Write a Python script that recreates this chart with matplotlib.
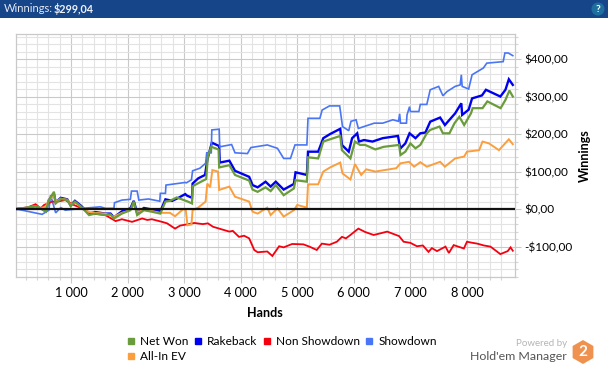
import matplotlib
matplotlib.use("Agg")
import matplotlib.pyplot as plt
from matplotlib.patches import RegularPolygon, Circle, Rectangle
from matplotlib.lines import Line2D

plt.rcParams['font.family'] = ['Lato', 'DejaVu Sans']

title_label = "Winnings:"
title_value = "$299,04"
x_label = "Hands"
y_label = "Winnings"
x_ticks = [1000, 2000, 3000, 4000, 5000, 6000, 7000, 8000]
x_tick_labels = ["1 000", "2 000", "3 000", "4 000", "5 000", "6 000", "7 000", "8 000"]
y_ticks = [-100, 0, 100, 200, 300, 400]
y_tick_labels = ["-$100,00", "$0,00", "$100,00", "$200,00", "$300,00", "$400,00"]

net_x = [20,195,375,465,555,610,700,730,820,935,995,1070,1170,1320,1430,1610,1700,1760,1900,2050,2110,2170,2290,2430,2580,2670,2750,2870,3050,3140,3150,3300,3390,3420,3480,3610,3620,3800,3900,4150,4210,4300,4440,4530,4620,4760,4940,4970,5170,5190,5370,5460,5580,5760,5790,5940,6020,6110,6200,6380,6530,6800,6825,6910,7000,7090,7175,7290,7350,7515,7575,7690,7780,7865,7950,8070,8100,8275,8360,8595,8680,8750,8810]
net_y = [0,3,8,2,-7,24,46,15,27,24,8,20,8,-16,-12,-16,-14,-25,-12,-3,20,-16,-3,-7,-12,20,22,31,21,15,61,73,80,140,166,159,111,117,91,76,52,46,58,48,64,37,55,77,73,138,135,180,186,195,157,135,180,171,171,159,166,171,144,153,175,162,171,202,211,220,202,202,229,246,224,255,269,269,287,269,291,316,300]

rake_x = [20,195,375,465,555,610,700,730,820,935,995,1070,1170,1320,1430,1610,1700,1760,1900,2050,2110,2170,2290,2430,2580,2670,2790,2900,3020,3050,3140,3150,3250,3370,3410,3490,3620,3630,3800,3900,4150,4210,4300,4440,4530,4620,4760,4940,4970,5170,5190,5370,5460,5580,5760,5790,5910,5970,6060,6090,6180,6330,6510,6780,6810,6825,6910,6985,7090,7175,7265,7350,7525,7610,7790,7900,7915,8030,8090,8265,8335,8590,8680,8740,8810]
rake_y = [0,3,8,2,-5,24,40,18,30,26,10,22,10,-12,-8,-12,-12,-22,-6,2,22,-10,3,-1,-6,26,22,30,40,36,30,68,82,91,131,177,168,124,129,102,86,64,58,73,60,73,52,67,98,91,153,153,189,200,214,171,153,189,202,180,184,180,189,195,171,162,175,202,189,202,204,233,244,224,255,282,251,265,295,303,318,300,318,346,331]

non_x = [20,195,375,465,525,670,760,900,1050,1200,1350,1500,1610,1790,1900,2080,2180,2260,2350,2430,2610,2700,2840,2930,3040,3180,3330,3420,3510,3620,3800,3860,3970,4060,4150,4240,4300,4470,4560,4680,4760,4910,5110,5230,5345,5435,5570,5700,5790,5860,5940,6080,6200,6350,6460,6590,6730,6800,6880,7000,7115,7220,7320,7380,7470,7620,7680,7765,7945,8000,8100,8180,8300,8415,8590,8720,8770,8810]
non_y = [0,2,13,2,11,20,20,24,11,2,-12,-14,-16,-32,-27,-34,-29,-25,-29,-27,-34,-38,-52,-44,-41,-37,-40,-38,-47,-52,-60,-58,-74,-71,-78,-109,-115,-113,-125,-99,-102,-93,-94,-101,-109,-92,-95,-87,-74,-78,-69,-52,-61,-69,-65,-60,-68,-72,-87,-90,-99,-97,-114,-104,-112,-100,-117,-96,-105,-87,-90,-92,-97,-100,-120,-112,-102,-111]

show_x = [20,140,490,610,640,730,820,900,1200,1520,1610,1760,1770,1900,2050,2070,2170,2200,2370,2570,2580,2670,2680,3020,3040,3130,3150,3280,3380,3400,3480,3490,3620,3630,3840,3900,4120,4180,4470,4650,4760,4880,4960,5170,5190,5400,5440,5570,5750,5800,5910,5950,6040,6080,6360,6510,6690,6790,6810,6825,6930,6940,6985,7000,7150,7175,7290,7350,7500,7575,7645,7790,7880,7900,7915,8030,8090,8290,8350,8640,8670,8730,8810]
show_y = [0,-3,-14,-3,37,-10,4,-3,2,6,2,2,17,24,26,48,48,24,27,21,42,42,64,71,70,78,102,109,122,150,150,211,213,166,172,150,148,164,171,162,135,135,171,171,242,242,264,275,275,220,209,234,238,215,229,229,238,234,254,229,229,251,273,260,260,279,279,318,327,302,313,327,331,358,327,320,358,376,389,393,416,416,409]

ev_x = [20,375,465,555,610,700,730,820,935,995,1070,1170,1320,1430,1610,1760,1900,2050,2110,2170,2290,2430,2580,2750,2840,2985,3030,3060,3130,3150,3250,3380,3410,3460,3500,3600,3620,3800,3900,4150,4210,4300,4470,4530,4650,4760,4940,5000,5170,5190,5370,5460,5580,5760,5800,5940,6020,6130,6220,6380,6750,6825,6975,7065,7175,7290,7525,7610,7790,7950,8000,8215,8275,8390,8565,8740,8810]
ev_y = [0,8,3,6,25,35,20,28,25,12,18,6,-8,-10,-12,-20,-10,-3,12,-8,-2,-5,-10,-10,-19,0,-3,-43,-41,-3,4,20,68,58,104,100,51,60,33,20,-7,-12,4,-16,2,-20,-3,11,4,66,66,100,111,124,95,79,120,91,106,100,109,122,126,113,125,113,126,113,135,140,153,157,180,175,157,186,173]

series = [
    ("Rakeback", rake_x, rake_y, "#0000f0", 1.7),
    ("Showdown", show_x, show_y, "#4a76f5", 1.2),
    ("Non Showdown", non_x, non_y, "#f5000f", 1.3),
    ("All-In EV", ev_x, ev_y, "#fb9f3e", 1.4),
    ("Net Won", net_x, net_y, "#6a9b3c", 1.6),
]

W, H = 608, 369
fig = plt.figure(figsize=(W / 100, H / 100), dpi=100, facecolor="white")
L, R, T, B = 15.5, 514.5, 33.5, 277.0
ax = fig.add_axes([L / W, 1 - B / H, (R - L) / W, (B - T) / H])
for name, xs, ys, color, lw in series:
    ax.plot(xs, ys, color=color, lw=lw, label=name, zorder=3, solid_joinstyle="miter")
ax.axhline(0, color="#111111", lw=1.6, zorder=5)
ax.set_xlim(20, 8840)
ax.set_ylim(-181, 468)
ax.set_xticks(x_ticks, x_tick_labels)
ax.set_xticks(list(range(200, 8800, 200)), minor=True)
ax.set_yticks(y_ticks, y_tick_labels)
ax.set_yticks(list(range(-180, 468, 20)), minor=True)
ax.yaxis.tick_right()
ax.yaxis.set_label_position("right")
ax.grid(True, which="major", color="#c9c9c9", lw=0.8, zorder=1)
ax.grid(True, which="minor", color="#e3e3e3", lw=0.8, zorder=0)
ax.set_axisbelow(True)
ax.tick_params(which="major", length=4, color="#c9c9c9", width=0.8, pad=3, labelcolor="black")
ax.tick_params(axis="x", which="major", labelsize=9.2)
ax.tick_params(axis="y", which="major", labelsize=8.5)
ax.tick_params(which="minor", length=2.5, color="#d5d5d5", width=0.8)
for s in ax.spines.values():
    s.set_color("#c9c9c9")
    s.set_linewidth(0.9)
ax.set_xlabel(x_label, fontsize=9, fontweight="bold", labelpad=6)
ax.set_ylabel(y_label, fontsize=9, fontweight="bold", labelpad=4.5)

h = {n: Line2D([], [], ls="none", marker="s", ms=4.6, color=c) for n, _, _, c, _ in series}
order = ["Net Won", "All-In EV", "Rakeback", "Non Showdown", "Showdown"]
fig.legend([h[n] for n in order], order, ncols=4, loc="lower left",
           bbox_to_anchor=(127 / W, 1 - 362 / H), frameon=False, fontsize=8.6,
           handlelength=0.7, handletextpad=0.4, columnspacing=0.45, labelspacing=0.3,
           borderaxespad=0, borderpad=0)

ov = fig.add_axes([0, 0, 1, 1], zorder=20)
ov.set_xlim(0, W)
ov.set_ylim(H, 0)
ov.axis("off")
ov.patch.set_alpha(0)
ov.add_patch(Rectangle((0, 0), W, 18, color="#17458a", lw=0))
ov.add_patch(Circle((598, 9), 6.5, color="#1f6f9e", lw=0))
ov.text(598, 9, "?", color="white", fontsize=7.5, fontweight="bold", ha="center", va="center")
ov.text(4, 9, title_label, color="#e2e8f2", fontsize=8.0, va="center")
ov.text(54, 9, title_value, color="#eef2f8", fontsize=7.8, fontweight="bold", va="center")
ov.text(567, 343, "Powered by", color="#b5b5b5", fontsize=7, ha="right", va="center")
ov.text(567, 356, "Hold'em Manager", color="#555555", fontsize=8.9, ha="right", va="center")
ov.add_patch(RegularPolygon((583, 352), 6, radius=12, color="#f0924f", lw=0))
ov.text(583, 351.5, "2", color="white", fontsize=11, fontweight="bold", ha="center", va="center")

fig.savefig("out.png", dpi=100)
